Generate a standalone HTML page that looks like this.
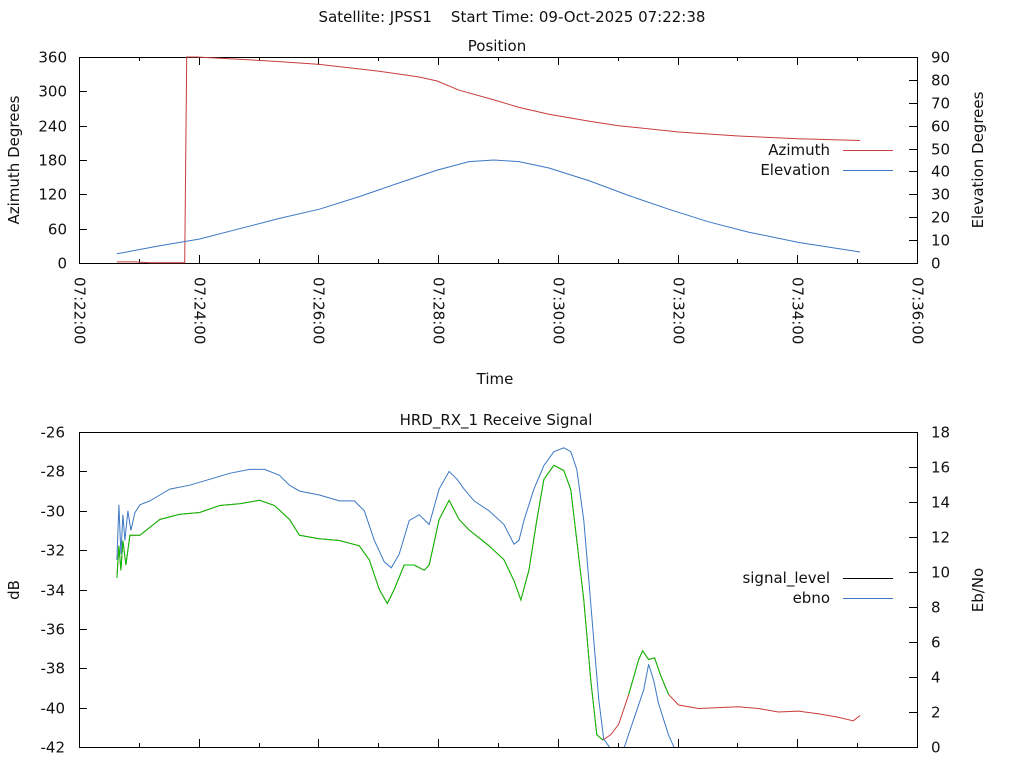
<!DOCTYPE html>
<html><head><meta charset="utf-8"><style>
body{margin:0;background:#fff}
svg{display:block;font-family:"DejaVu Sans","Liberation Sans",sans-serif;font-size:15px;fill:#111}
</style></head><body>
<svg id="c" width="1024" height="768" xmlns="http://www.w3.org/2000/svg">
<text x="512" y="22" text-anchor="middle" xml:space="preserve">Satellite: JPSS1    Start Time: 09-Oct-2025 07:22:38</text>
<text x="497" y="51" text-anchor="middle">Position</text>
<text x="495" y="384" text-anchor="middle">Time</text>
<text x="496" y="425" text-anchor="middle">HRD_RX_1 Receive Signal</text>
<text transform="translate(19,160) rotate(-90)" text-anchor="middle">Azimuth Degrees</text>
<text transform="translate(983,160) rotate(-90)" text-anchor="middle">Elevation Degrees</text>
<text transform="translate(19,590) rotate(-90)" text-anchor="middle">dB</text>
<text transform="translate(983,590) rotate(-90)" text-anchor="middle">Eb/No</text>
<g id="top"></g>
<g id="bot"></g>
</svg>
<script>
// ---- data (time in seconds after 07:22:00) ----
const azTime=[38,56,71,106,107,108,118,151,201,241,301,341,359,381,416,441,471,511,541,601,661,721,783];
const azVals=[2,2,0.5,0.5,180,360,360,357,352,347,335,325,318,302,285,272,260,248,240,229,222,217,214];
const elTime=[38,81,121,161,201,241,281,321,359,391,416,441,471,511,551,591,631,671,721,783];
const elVals=[4,7.5,10.5,15,19.5,23.5,29,35,40.6,44.3,45,44.3,41.5,36,29.5,23.5,18,13.5,9,4.8];
const xTicks=["07:22:00","07:24:00","07:26:00","07:28:00","07:30:00","07:32:00","07:34:00","07:36:00"];
const azTicks=[0,60,120,180,240,300,360];
const elTicks=[0,10,20,30,40,50,60,70,80,90];
const dbTicks=[-42,-40,-38,-36,-34,-32,-30,-28,-26];
const ebTicks=[0,2,4,6,8,10,12,14,16,18];
const sigTime=[38,40,42,44,46,49,52,56,61,71,81,91,111,131,151,171,186,201,211,221,241,261,276,286,296,306,313,321,331,341,351,361,371,379,386,396,411,426,436,441,446,456,466,476,486,493,499,506,511,516,521,526,536,546,556,566,571,576,581,591,599];
const sigVals=[-32.5,-29.7,-32.2,-30.2,-31.5,-30,-31,-30.1,-29.7,-29.5,-29.2,-28.9,-28.7,-28.4,-28.1,-27.9,-27.9,-28.2,-28.7,-29,-29.2,-29.5,-29.5,-30,-31.5,-32.6,-32.9,-32.2,-30.5,-30.2,-30.7,-28.9,-28,-28.4,-28.9,-29.5,-30,-30.7,-31.7,-31.5,-30.5,-28.9,-27.7,-27,-26.8,-27,-27.9,-30.5,-33.5,-36.6,-39.6,-41.6,-42.3,-42.1,-40.6,-39.1,-37.8,-38.6,-39.8,-41.4,-42.3];
const ebTime=[38,40,42,44,47,51,61,81,101,121,141,161,181,196,211,221,241,261,281,291,301,309,316,326,336,346,351,361,371,381,391,411,426,436,443,451,459,466,476,486,493,499,506,513,519,525,533,541,551,561,565,571,577,583,591,601,621,641,661,681,701,721,741,761,776,783];
const ebVals=[9.66,11.5,10.1,11.8,10.4,12.1,12.1,13,13.3,13.4,13.8,13.9,14.1,13.8,13,12.1,11.9,11.8,11.5,10.7,9,8.2,9,10.4,10.4,10.1,10.4,13,14.1,13,12.4,11.5,10.7,9.5,8.4,10.1,13,15.3,16.1,15.8,14.7,11.8,8.4,3.8,0.7,0.4,0.7,1.3,3,5,5.5,5,5.1,4.1,3,2.4,2.2,2.25,2.3,2.2,2,2.05,1.9,1.7,1.5,1.8];
// ---- axes ----
const SVGNS="http://www.w3.org/2000/svg";
const svg=document.getElementById('c');
const X0=79,X1=917;
function xs(t){return X0+(X1-X0)*t/840;}
const T={y0:263,y1:57}, B={y0:747,y1:432};
function azY(v){return T.y0-(T.y0-T.y1)*v/360;}
function elY(v){return T.y0-(T.y0-T.y1)*v/90;}
function dbY(v){return B.y0-(B.y0-B.y1)*(v+42)/16;}
function ebY(v){return B.y0-(B.y0-B.y1)*v/18;}
function mk(tag,attrs,parent){const e=document.createElementNS(SVGNS,tag);for(const k in attrs)e.setAttribute(k,attrs[k]);(parent||svg).appendChild(e);return e;}
function line(x1,y1,x2,y2,p){return mk('line',{x1,y1,x2,y2,stroke:'#000','stroke-width':1},p);}
function txt(x,y,s,anchor,p){const e=mk('text',{x,y,'text-anchor':anchor},p);e.textContent=s;return e;}
const topG=document.getElementById('top'), botG=document.getElementById('bot');
const f1=mk('rect',{x:X0+0.5,y:T.y1+0.5,width:X1-X0,height:T.y0-T.y1,fill:'none',stroke:'#000'},topG);


const f2=mk('rect',{x:X0+0.5,y:B.y1+0.5,width:X1-X0,height:B.y0-B.y1,fill:'none',stroke:'#000'},botG);


azTicks.forEach(v=>{const y=Math.round(azY(v))+0.5;line(X0,y,X0+8,y,topG);
 const t=txt(X0-12,y+5,String(v),'end',topG);
 
 });
elTicks.forEach(v=>{const y=Math.round(elY(v))+0.5;line(X1-8,y,X1,y,topG);
 const t=txt(X1+14,y+5,String(v),'start',topG);
 
 });
xTicks.forEach((s,i)=>{const x=Math.round(xs(i*120))+0.5;
 line(x,T.y0,x,T.y0-8,topG);line(x,T.y1,x,T.y1+8,topG);
 if(i<7){const xm=Math.round(xs(i*120+60))+0.5;line(xm,T.y0,xm,T.y0-4,topG);line(xm,T.y1,xm,T.y1+4,topG);}
 const t=mk('text',{transform:`translate(${x-5},277) rotate(90)`,'text-anchor':'start'},topG);t.textContent=s;
 
 
 if(i>0&&i<7){line(x,B.y0,x,B.y0-8,botG);}
 if(i<7){const xm=Math.round(xs(i*120+60))+0.5;line(xm,B.y0,xm,B.y0-4,botG);}
});
dbTicks.forEach(v=>{const y=Math.round(dbY(v))+0.5;line(X0,y,X0+8,y,botG);
 const t=txt(X0-14,y+5,String(v),'end',botG);
 
 });
ebTicks.forEach(v=>{const y=Math.round(ebY(v))+0.5;line(X1-8,y,X1,y,botG);
 const t=txt(X1+14,y+5,String(v),'start',botG);
 
 });
function path(ts,vs,yf,color,p,clip){let d='';ts.forEach((t,i)=>{d+=(i?'L':'M')+xs(t).toFixed(1)+','+yf(vs[i]).toFixed(1);});
 const e=mk('path',{d,fill:'none',stroke:color,'stroke-width':1},p);if(clip)e.setAttribute('clip-path',clip);return e;}
const defs=mk('defs',{});const cp=mk('clipPath',{id:'bc'},defs);mk('rect',{x:X0,y:B.y1,width:X1-X0,height:B.y0-B.y1},cp);
const az=path(azTime,azVals,azY,'#c83c3c',topG);


const el=path(elTime,elVals,elY,'#3c78c3',topG);


const eb=path(ebTime,ebVals,ebY,'#c83c3c',botG,'url(#bc)');


const sigAt=t=>{for(let i=1;i<sigTime.length;i++)if(sigTime[i]>=t){const a=sigTime[i-1],b=sigTime[i];return sigVals[i-1]+(sigVals[i]-sigVals[i-1])*(t-a)/(b-a);}return -99;};
let gd='',pen=false;ebTime.forEach((t,i)=>{const ok=t<=sigTime[sigTime.length-1]&&sigAt(t)>-42;
 if(ok){gd+=(pen?'L':'M')+xs(t).toFixed(1)+','+ebY(ebVals[i]).toFixed(1);pen=true;}else pen=false;});
const g=mk('path',{d:gd,fill:'none',stroke:'#00c000','stroke-width':1,'clip-path':'url(#bc)'},botG);


const sg=path(sigTime,sigVals,dbY,'#3c78c3',botG,'url(#bc)');


function leg(p,y,label,color,name){const t=txt(830,y+5,label,'end',p);
 
 
 line(843,y+0.5,893,y+0.5,p).setAttribute('stroke',color);}
leg(topG,150,'Azimuth','#c83c3c','legend-azimuth');
leg(topG,170,'Elevation','#3c78c3','legend-elevation');
leg(botG,578,'signal_level','#000','legend-signal-level');
leg(botG,598,'ebno','#3c78c3','legend-ebno');
</script>
</body></html>
